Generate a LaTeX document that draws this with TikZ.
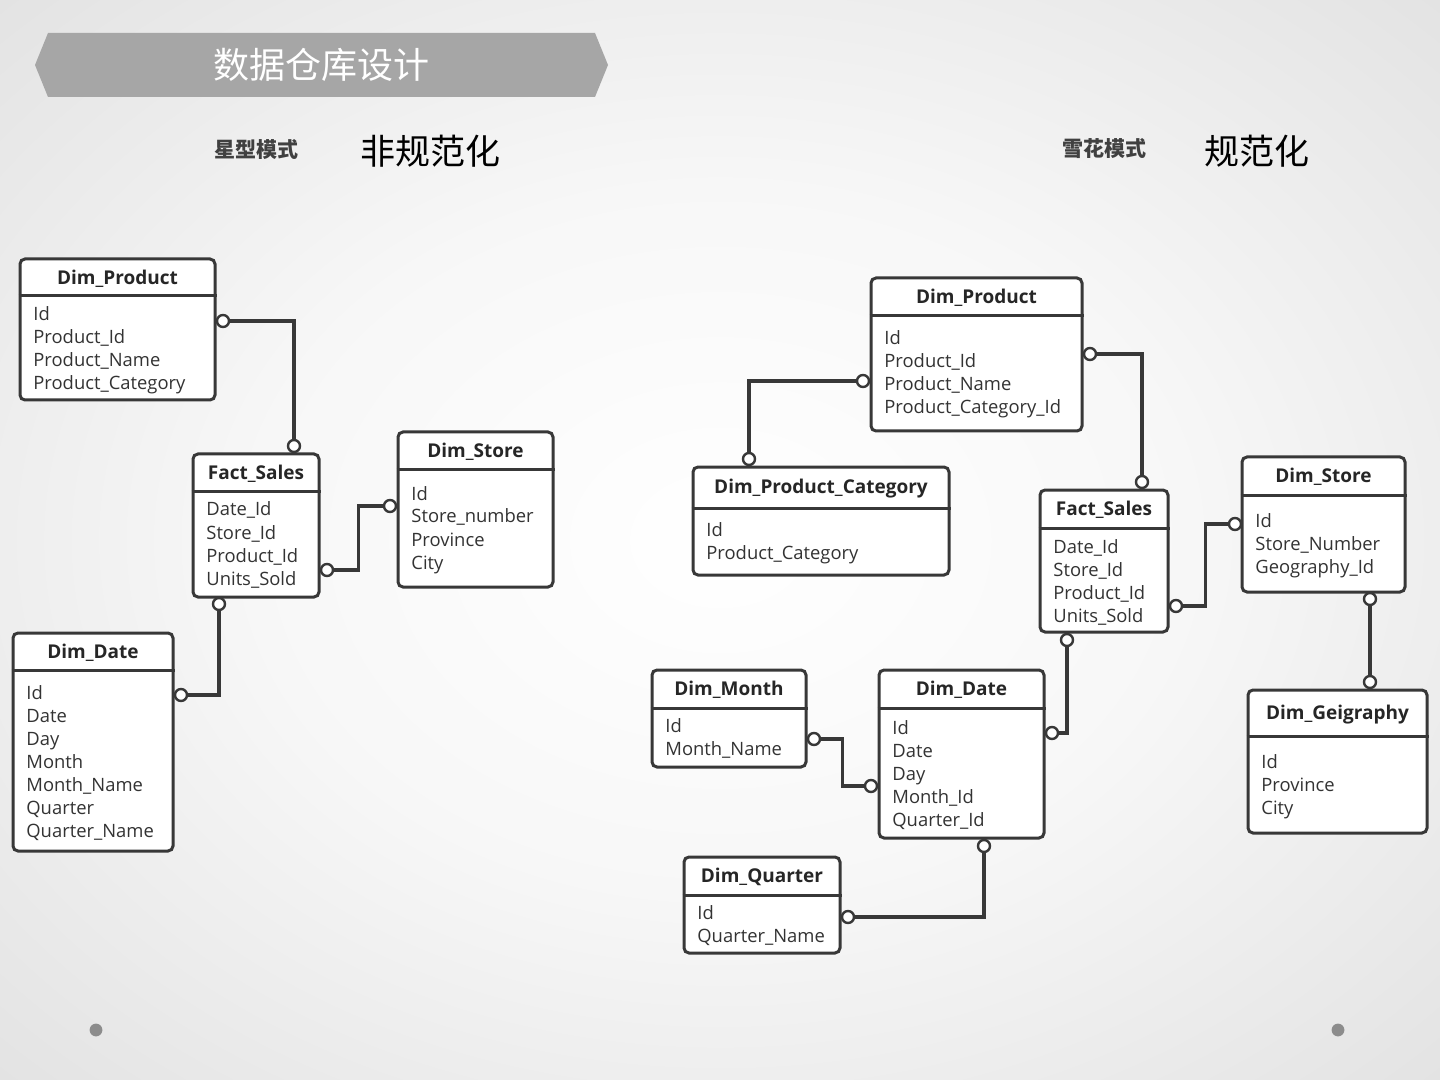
\documentclass[tikz,border=0pt]{standalone}
\usepackage{fontspec}
\setmainfont{Open Sans}
\newfontfamily\cjk{Noto Sans CJK SC}
\usetikzlibrary{fit,calc}
\pgfdeclareradialshading{bgshade}{\pgfpoint{0bp}{0bp}}{color(0bp)=(white); color(16bp)=(white!97!black); color(50bp)=(white!83!black); color(72bp)=(white!75!black)}
\definecolor{ink}{HTML}{333333}
\definecolor{hink}{HTML}{262626}
\definecolor{edge}{HTML}{383838}
\definecolor{banner}{HTML}{A6A6A6}
\definecolor{dotc}{HTML}{8C8C8C}
\tikzset{
  tblbox/.style={draw=edge, line width=1.5pt, rounded corners=2.5pt, fill=white, inner sep=0pt},
  tblline/.style={draw=edge, line width=1.5pt},
  hdr/.style={inner sep=0pt, text=hink, font=\bfseries\fontsize{9.5}{11}\selectfont},
  fld/.style={anchor=base west, inner sep=0pt, text=ink, font=\fontsize{9.2}{11}\selectfont},
  conn/.style={draw=edge, line width=1.6pt},
  endc/.style={circle, draw=edge, fill=white, line width=1.2pt, minimum size=6pt, inner sep=0pt},
}
\newcommand{\ertable}[9]{%
  \node[tblbox, fit={(#2,#3) (#4,#5)}] (#1) {};
  \draw[tblline] (#1.west |- 0,#6) -- (#1.east |- 0,#6);
  \node[hdr] (#1-t) at ($(#1.north)!0.5!(#1.north |- 0,#6)+(0,2)$) {#8};
  \foreach \t [count=\i] in {#9} {\node[fld] (#1-\i) at ({#2+13},{#7+(\i-1)*23}) {\t};}
}
\begin{document}
\begin{tikzpicture}[x=0.5pt,y=-0.5pt]
\useasboundingbox (0,0) rectangle (1440,1080);
\shade[shading=bgshade] (0,0) rectangle (1440,1080);

% banner
\fill[banner] (35,65) -- (48,33) -- (595,33) -- (608,65) -- (595,97) -- (48,97) -- cycle;
\node[font=\cjk\fontsize{18}{20}\selectfont, text=white, inner sep=0pt] (ttl) at (321,65) {数据仓库设计};

% subtitles
\node[font=\cjk\bfseries\fontsize{10.5}{12}\selectfont, text=black!75, inner sep=0pt] (star) at (256,149) {星型模式};
\node[font=\cjk\fontsize{17.5}{20}\selectfont, text=black, inner sep=0pt] (denorm) at (430,151) {非规范化};
\node[font=\cjk\bfseries\fontsize{10.5}{12}\selectfont, text=black!75, inner sep=0pt] (snow) at (1104,149) {雪花模式};
\node[font=\cjk\fontsize{17.5}{20}\selectfont, text=black, inner sep=0pt] (norm) at (1257,151) {规范化};

% dots
\fill[dotc] (96,1030) circle (3.2pt);
\fill[dotc] (1338,1030) circle (3.2pt);

% left: star schema
\ertable{lp}{20}{259}{215}{400}{296}{321}{Dim\_Product}{Id,Product\_Id,Product\_Name,Product\_Category}
\ertable{lf}{193}{454}{319}{597}{491}{516}{Fact\_Sales}{Date\_Id,Store\_Id,Product\_Id,Units\_Sold}
\ertable{ls}{398}{432}{553}{587}{469}{500}{Dim\_Store}{Id,Store\_number,Province,City}
\ertable{ld}{13}{633}{173}{851}{670}{699}{Dim\_Date}{Id,Date,Day,Month,Month\_Name,Quarter,Quarter\_Name}

% right: snowflake schema
\ertable{rp}{871}{278}{1082}{431}{316}{345}{Dim\_Product}{Id,Product\_Id,Product\_Name,Product\_Category\_Id}
\ertable{rc}{693}{467}{949}{575}{508}{536}{Dim\_Product\_Category}{Id,Product\_Category}
\ertable{rf}{1040}{490}{1168}{632}{528}{553}{Fact\_Sales}{Date\_Id,Store\_Id,Product\_Id,Units\_Sold}
\ertable{rs}{1242}{457}{1405}{592}{495}{527}{Dim\_Store}{Id,Store\_Number,Geography\_Id}
\ertable{rg}{1248}{690}{1427}{833}{736}{768}{Dim\_Geigraphy}{Id,Province,City}
\ertable{rm}{652}{670}{806}{767}{708}{732}{Dim\_Month}{Id,Month\_Name}
\ertable{rd}{879}{670}{1044}{838}{708}{734}{Dim\_Date}{Id,Date,Day,Month\_Id,Quarter\_Id}
\ertable{rq}{684}{857}{840}{953}{895}{919}{Dim\_Quarter}{Id,Quarter\_Name}

% connector end circles
\node[endc] (L1a) at (223,321) {};
\node[endc] (L1b) at (294,446) {};
\node[endc] (L2a) at (327,570) {};
\node[endc] (L2b) at (390,506) {};
\node[endc] (L3a) at (219,604) {};
\node[endc] (L3b) at (181,695) {};
\node[endc] (R1a) at (863,381) {};
\node[endc] (R1b) at (749,459) {};
\node[endc] (R2a) at (1090,354) {};
\node[endc] (R2b) at (1142,482) {};
\node[endc] (R3a) at (1176,606) {};
\node[endc] (R3b) at (1235,524) {};
\node[endc] (R4a) at (1067,640) {};
\node[endc] (R4b) at (1052,733) {};
\node[endc] (R5a) at (1370,599) {};
\node[endc] (R5b) at (1370,682) {};
\node[endc] (R6a) at (814,739) {};
\node[endc] (R6b) at (871,786) {};
\node[endc] (R7a) at (984,846) {};
\node[endc] (R7b) at (848,917) {};

\coordinate (mL2) at ($(L2a)!0.5!(L2b)$);
\coordinate (mR3) at ($(R3a)!0.5!(R3b)$);
\coordinate (mR6) at ($(R6a)!0.5!(R6b)$);

% connectors
\draw[conn] (L1a) -| (L1b);
\draw[conn] (L2a) -| (mL2) |- (L2b);
\draw[conn] (L3a) |- (L3b);
\draw[conn] (R1a) -| (R1b);
\draw[conn] (R2a) -| (R2b);
\draw[conn] (R3a) -| (mR3) |- (R3b);
\draw[conn] (R4a) |- (R4b);
\draw[conn] (R5a) -- (R5b);
\draw[conn] (R6a) -| (mR6) |- (R6b);
\draw[conn] (R7a) |- (R7b);
\end{tikzpicture}
\end{document}
